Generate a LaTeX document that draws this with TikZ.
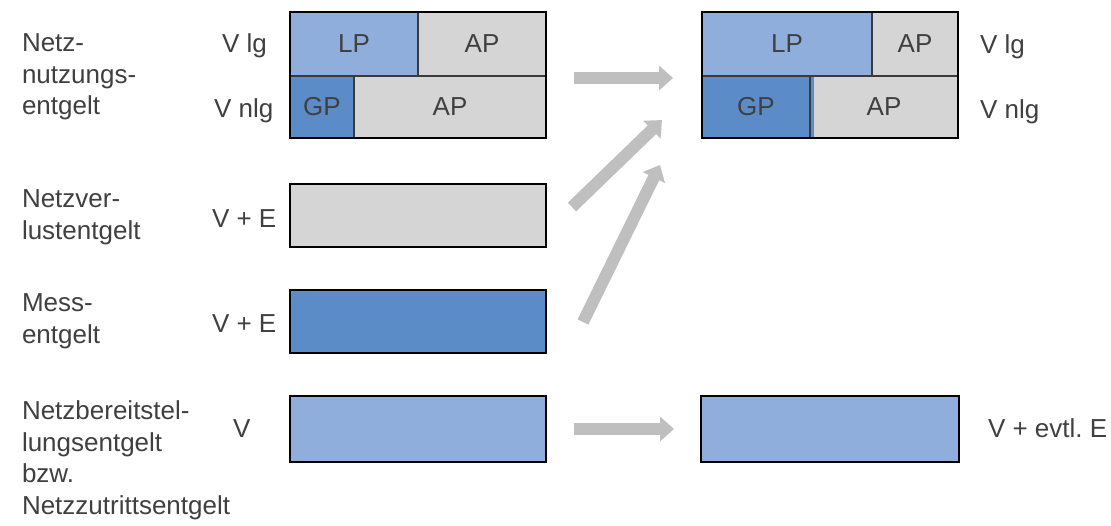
\documentclass[tikz,border=0pt]{standalone}
\usepackage{fontspec}
\setmainfont{Liberation Sans}
\frenchspacing
\usetikzlibrary{arrows.meta}
\definecolor{lpblue}{HTML}{8FAEDC}
\definecolor{gpblue}{HTML}{5B8CC7}
\definecolor{apgray}{HTML}{D5D5D5}
\definecolor{arrgray}{HTML}{BFBFBF}
\definecolor{txt}{HTML}{404040}
\definecolor{divline}{HTML}{3A3A3A}
\tikzset{
  every node/.style={font=\fontsize{26}{31.5}\selectfont, text=txt, inner sep=0pt, outer sep=0pt},
  cell/.style={draw=divline, line width=1.2pt, anchor=north west},
  outerbox/.style={draw=black, line width=2.2pt},
  barbox/.style={draw=black, line width=2.2pt, anchor=north west, minimum width=256, minimum height=63},
  lbl/.style={anchor=north west, align=left},
  vlbl/.style={anchor=base west},
  bigarrow/.style={draw=arrgray, line width=12pt, -{Triangle[width=24pt,length=14pt]}}
}
\begin{document}
\begin{tikzpicture}[x=1pt,y=-1pt]
\useasboundingbox[fill=white] (0,0) rectangle (1111,525);

% left labels
\node[lbl] (l1) at (22,34) {Netz-\\nutzungs-\\entgelt};
\node[lbl] (l2) at (22,190) {Netzver-\\lustentgelt};
\node[lbl] (l3) at (22,294) {Mess-\\entgelt};
\node[lbl] (l4) at (22,401) {Netzbereitstel-\\lungsentgelt\\bzw.\\Netzzutrittsentgelt};

% V labels left
\node[vlbl] (v1) at (222,52) {V lg};
\node[vlbl] (v2) at (214,117) {V nlg};
\node[vlbl] (v3) at (212,227) {V + E};
\node[vlbl] (v4) at (212,332) {V + E};
\node[vlbl] (v5) at (233,437) {V};

% top-left composite box
\node[cell, fill=lpblue, minimum width=128, minimum height=64] (lpL) at (290,12) {LP};
\node[cell, fill=apgray, minimum width=128, minimum height=64] (apL1) at (418,12) {AP};
\node[cell, fill=gpblue, minimum width=64, minimum height=62] (gpL) at (290,76) {GP};
\node[cell, fill=apgray, minimum width=192, minimum height=62] (apL2) at (354,76) {AP};
\draw[outerbox] (lpL.north west) rectangle (apL2.south east);

% top-right composite box
\node[cell, fill=lpblue, minimum width=170, minimum height=64] (lpR) at (702,12) {LP};
\node[cell, fill=apgray, minimum width=86, minimum height=64] (apR1) at (872,12) {AP};
\node[cell, fill=gpblue, minimum width=108, minimum height=62] (gpR) at (702,76) {GP};
\node[cell, fill=apgray, minimum width=148, minimum height=62] (apR2) at (810,76) {AP};
\fill[gpblue] (810.7,76.7) rectangle (813.5,137.3);
\draw[outerbox] (lpR.north west) rectangle (apR2.south east);

% single bars
\node[barbox, fill=apgray] (verl) at (290,184) {};
\node[barbox, fill=gpblue] (mess) at (290,290) {};
\node[barbox, fill=lpblue, minimum height=66] (nbL) at (290,396) {};
\node[barbox, fill=lpblue, minimum width=258, minimum height=66] (nbR) at (701,396) {};

% right labels
\node[vlbl] (r1) at (980,53) {V lg};
\node[vlbl] (r2) at (980,118) {V nlg};
\node[vlbl] (r3) at (988,437) {V + evtl. E};

% arrows
\coordinate (a1s) at (574,78);  \coordinate (a1e) at (673,78);
\coordinate (a2s) at (572,207); \coordinate (a2e) at (662,120);
\coordinate (a3s) at (583,322); \coordinate (a3e) at (660,165);
\coordinate (a4s) at (574,429); \coordinate (a4e) at (674,429);
\draw[bigarrow] (a1s) -- (a1e);
\draw[bigarrow] (a2s) -- (a2e);
\draw[bigarrow] (a3s) -- (a3e);
\draw[bigarrow] (a4s) -- (a4e);
\end{tikzpicture}
\end{document}
